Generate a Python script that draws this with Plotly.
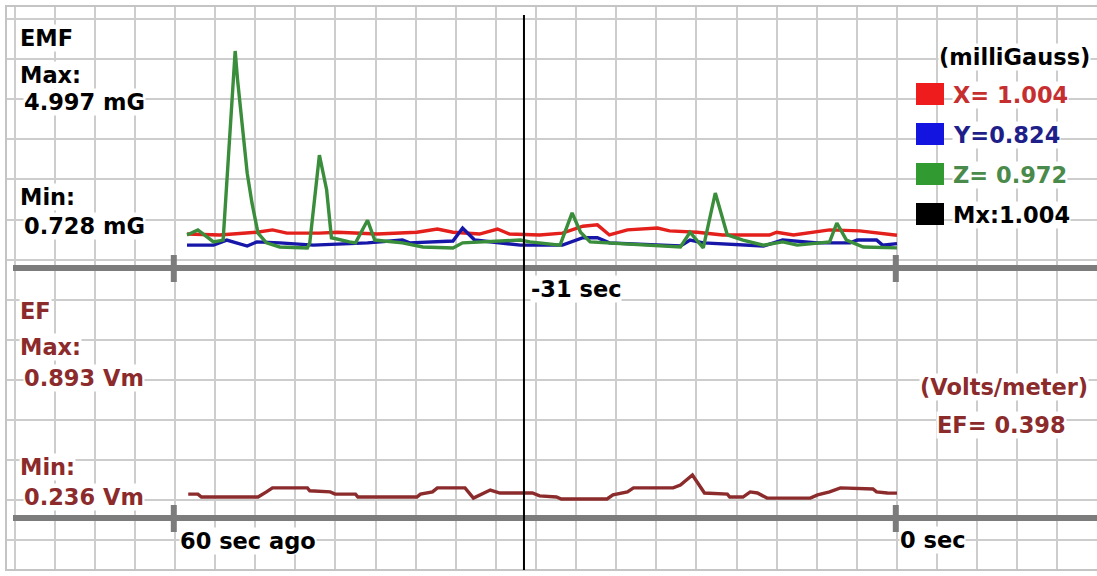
import plotly.graph_objects as go

# ---------------- data ----------------
# EMF axis readings in milliGauss, time in seconds relative to now
x_t = [-59.0, -56.3, -53.2, -51.9, -50.7, -48.0, -46.5, -43.2, -39.9, -38.2,
       -36.9, -34.7, -33.2, -32.2, -29.7, -27.8, -26.1, -24.9, -23.9, -22.4,
       -19.9, -18.9, -16.6, -14.5, -10.6, -10.0, -8.6, -5.6, -3.1, 0.0]
x_mg = [1.03, 1.01, 1.07, 1.12, 1.05, 1.05, 1.07, 1.03, 1.07, 1.14,
        1.07, 1.03, 1.14, 1.03, 1.01, 1.05, 1.20, 1.23, 1.01, 1.12,
        1.16, 1.10, 1.07, 1.01, 1.01, 1.07, 1.01, 1.12, 1.10, 1.004]

y_t = [-59.0, -56.8, -55.7, -54.0, -53.2, -51.3, -48.5, -44.0, -41.1, -40.5,
       -36.9, -36.1, -35.1, -31.3, -27.8, -26.1, -24.9, -23.9, -18.0, -17.2,
       -16.1, -11.1, -9.5, -6.6, -3.9, -3.3, -1.7, -1.2, 0.0]
y_mg = [0.79, 0.79, 0.90, 0.77, 0.86, 0.84, 0.79, 0.84, 0.90, 0.84,
        0.88, 1.16, 0.90, 0.79, 0.79, 0.95, 0.95, 0.84, 0.77, 0.90,
        0.84, 0.77, 0.90, 0.84, 0.84, 0.90, 0.90, 0.79, 0.824]

z_t = [-59.0, -58.1, -56.8, -56.0, -55.0, -54.8, -54.0, -53.6, -53.1, -52.4,
       -51.3, -49.0, -48.8, -48.0, -47.4, -47.0, -45.5, -45.0, -44.0, -43.4,
       -41.1, -39.4, -36.9, -36.1, -31.3, -30.5, -28.0, -27.0, -26.3, -25.5,
       -18.0, -17.2, -16.1, -15.1, -14.1, -12.8, -11.1, -9.5, -8.3, -5.6,
       -5.0, -4.2, -2.8, 0.0]
z_mg = [1.01, 1.12, 0.86, 0.90, 4.997, 4.37, 2.35, 1.70, 1.05, 0.84,
        0.75, 0.728, 0.84, 2.74, 1.99, 0.95, 0.86, 0.84, 1.33, 0.90,
        0.84, 0.75, 0.728, 0.84, 0.90, 0.86, 0.79, 1.49, 1.07, 0.86,
        0.75, 1.07, 0.73, 1.92, 1.01, 0.90, 0.79, 0.86, 0.79, 0.86,
        1.27, 0.90, 0.75, 0.73]

# Electric field in volts/meter
ef_t = [-58.9, -58.1, -57.8, -53.1, -52.4, -51.9, -49.0, -48.8, -47.1, -46.7,
        -45.0, -44.8, -39.9, -39.6, -38.6, -38.2, -35.9, -35.2, -33.8, -33.0,
        -30.3, -29.7, -28.3, -27.9, -24.1, -23.6, -22.4, -21.9, -18.6, -18.0,
        -17.0, -16.0, -14.1, -13.9, -12.8, -12.2, -11.6, -10.8, -7.2, -6.6,
        -5.6, -4.7, -2.0, -1.7, -0.8, 0.0]
ef_vm = [0.37, 0.37, 0.29, 0.29, 0.43, 0.54, 0.54, 0.46, 0.43, 0.37,
         0.37, 0.29, 0.29, 0.37, 0.43, 0.54, 0.54, 0.26, 0.48, 0.40,
         0.40, 0.32, 0.29, 0.236, 0.236, 0.35, 0.43, 0.54, 0.54, 0.62,
         0.893, 0.40, 0.37, 0.29, 0.29, 0.43, 0.40, 0.26, 0.26, 0.35,
         0.43, 0.54, 0.51, 0.43, 0.40, 0.398]

# live meter readings shown beside the legend swatches
reading_names = ["X", "Y", "Z"]
reading_vals = [1.004, 0.824, 0.972]

cursor_sec = -31

# ---------------- layout constants (pixels) ----------------
W, H = 1097, 576
T0_PX, T1_PX = 175.0, 897.0          # -60 s and 0 s
SEC_PX = (T1_PX - T0_PX) / 60.0
GRID_Y0, GRID_STEP = 19.0, 40.1
EMF_TOP_PX, EMF_BOT_PX = 51.0, 248.0
EF_TOP_PX, EF_BOT_PX = 475.0, 499.0
AXIS1_PX, AXIS2_PX = 268.0, 518.0
FRAME_L, FRAME_T, FRAME_B = 6, 6, 570

FONT = "DejaVu Sans"
FONT_SIZE = 22.5
GRID_C = "#cdcdcd"
BAR_C = "#7c7c7c"
EF_C = "#8c2b2b"

emf_all = x_mg + y_mg + z_mg
emf_max, emf_min = max(emf_all), min(emf_all)
ef_max, ef_min = max(ef_vm), min(ef_vm)


def value_range(vmin, vmax, top_px, bot_px):
    per_px = (vmax - vmin) / (bot_px - top_px)
    return [vmin - (H - bot_px) * per_px, vmin + bot_px * per_px]


def px(xp):
    return xp / W


def py(yp):
    return 1 - yp / H


x_range = [-60 - T0_PX / SEC_PX, (W - T1_PX) / SEC_PX]

fig = go.Figure()

# empty trace so the pixel grid subplot exists
fig.add_trace(go.Scatter(x=[None], y=[None], xaxis="x", yaxis="y",
                         showlegend=False, hoverinfo="skip"))

series = [
    (x_t, x_mg, "#e3201b"),
    (y_t, y_mg, "#1616a8"),
    (z_t, z_mg, "#3a8d3a"),
]
for t, v, c in series:
    fig.add_trace(go.Scatter(x=t, y=v, mode="lines", yaxis="y2",
                             line=dict(color=c, width=3.4),
                             showlegend=False, hoverinfo="skip"))

fig.add_trace(go.Scatter(x=ef_t, y=ef_vm, mode="lines", yaxis="y3",
                         line=dict(color=EF_C, width=3.4),
                         showlegend=False, hoverinfo="skip"))

shapes = []
# white margin outside the frame
for x0, x1, y0, y1 in [(0, FRAME_L, 0, H), (0, W, 0, FRAME_T), (0, W, FRAME_B, H)]:
    shapes.append(dict(type="rect", xref="paper", yref="paper",
                       x0=px(x0), x1=px(x1), y0=py(y1), y1=py(y0),
                       line=dict(width=0), fillcolor="white", layer="above"))
# outer frame
shapes.append(dict(type="rect", xref="paper", yref="paper",
                   x0=px(FRAME_L), x1=px(W + 4), y0=py(FRAME_B), y1=py(FRAME_T),
                   line=dict(color="#c4c4c4", width=2), fillcolor="rgba(0,0,0,0)",
                   layer="above"))
# thick time axes with end stubs
for ay in (AXIS1_PX, AXIS2_PX):
    shapes.append(dict(type="line", xref="paper", yref="y",
                       x0=px(13), x1=1, y0=ay, y1=ay,
                       line=dict(color=BAR_C, width=6)))
    for ts in (-60, 0):
        shapes.append(dict(type="line", xref="x", yref="y",
                           x0=ts - 0.1, x1=ts - 0.1, y0=ay - 13, y1=ay + 14,
                           line=dict(color=BAR_C, width=6)))
# cursor
shapes.append(dict(type="line", xref="x", yref="y",
                   x0=cursor_sec, x1=cursor_sec, y0=15, y1=FRAME_B,
                   line=dict(color="black", width=2)))

# legend swatches
sw_colors = ["#ee1c1c", "#1414e0", "#319b31", "#000000"]
sw_text_colors = ["#c62f2f", "#1f1f8a", "#4a8a4a", "#000000"]
row_y = [94, 134, 174, 214]
for c, ry in zip(sw_colors, row_y):
    shapes.append(dict(type="rect", xref="paper", yref="paper",
                       x0=px(916), x1=px(944), y0=py(ry + 11), y1=py(ry - 11),
                       line=dict(width=0), fillcolor=c))

annotations = []


def label(text, xp, yp, color="black", anchor="left"):
    annotations.append(dict(text=text, xref="paper", yref="paper",
                            x=px(xp), y=py(yp), xanchor=anchor, yanchor="middle",
                            showarrow=False, bgcolor="white", borderpad=0,
                            font=dict(family=FONT, size=FONT_SIZE, color=color,
                                      weight="bold")))


label("EMF", 19, 38)
label("Max:", 19, 75)
label(f"{emf_max:.3f} mG", 23, 102)
label("Min:", 19, 197)
label(f"{emf_min:.3f} mG", 23, 226)

label("EF", 19, 311, EF_C)
label("Max:", 19, 347, EF_C)
label(f"{ef_max:.3f} Vm", 23, 378, EF_C)
label("Min:", 19, 467, EF_C)
label(f"{ef_min:.3f} Vm", 23, 497, EF_C)

label(f"{cursor_sec} sec", 530, 289)
label("60 sec ago", 179, 541)
label("0 sec", 899, 540)

label("(milliGauss)", 1091, 57, anchor="right")
texts = [f"{reading_names[0]}= {reading_vals[0]:.3f}",
         f"{reading_names[1]}={reading_vals[1]:.3f}",
         f"{reading_names[2]}= {reading_vals[2]:.3f}",
         f"Mx:{max(reading_vals):.3f}"]
for tx, c, ry in zip(texts, sw_text_colors, row_y):
    label(tx, 952, ry + 1, c)

label("(Volts/meter)", 1089, 387, EF_C, anchor="right")
label(f"EF= {ef_vm[-1]:.3f}", 936, 425, EF_C)

fig.update_layout(
    width=W, height=H, margin=dict(l=0, r=0, t=0, b=0),
    paper_bgcolor="white", plot_bgcolor="white", showlegend=False,
    xaxis=dict(range=x_range, domain=[0, 1], showgrid=True, gridcolor=GRID_C,
               gridwidth=1.5, tick0=-60, dtick=10 / 3, showticklabels=False,
               zeroline=False, showline=False, ticks="", fixedrange=True),
    yaxis=dict(range=[H, 0], domain=[0, 1], showgrid=True, gridcolor=GRID_C,
               gridwidth=1.5, tick0=GRID_Y0, dtick=GRID_STEP,
               showticklabels=False, zeroline=False, showline=False,
               ticks="", fixedrange=True),
    yaxis2=dict(overlaying="y", range=value_range(emf_min, emf_max, EMF_TOP_PX, EMF_BOT_PX),
                visible=False, fixedrange=True),
    yaxis3=dict(overlaying="y", range=value_range(ef_min, ef_max, EF_TOP_PX, EF_BOT_PX),
                visible=False, fixedrange=True),
    shapes=shapes, annotations=annotations,
)

fig.write_html("out.html")
